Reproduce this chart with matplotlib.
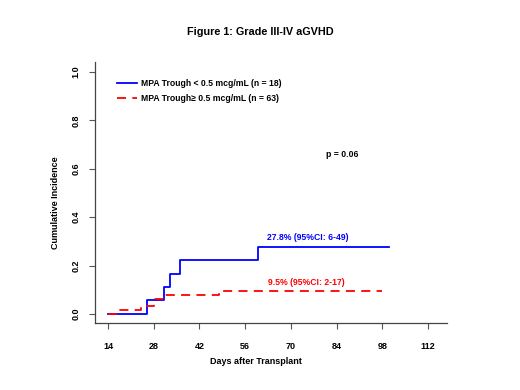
import matplotlib.pyplot as plt
from matplotlib.transforms import ScaledTranslation

plt.rcParams['font.family'] = ['Liberation Sans', 'DejaVu Sans']

# step curves (days, cumulative incidence)
low_days = [14, 26, 31, 33, 36, 60, 100]
low_inc = [0.0, 0.056, 0.111, 0.167, 0.222, 0.278, 0.278]
high_days = [14, 17, 24, 28, 31, 48, 98]
high_inc = [0.0, 0.016, 0.032, 0.063, 0.079, 0.095, 0.095]

xticks = [14, 28, 42, 56, 70, 84, 98, 112]
yticks = [0.0, 0.2, 0.4, 0.6, 0.8, 1.0]

fig = plt.figure(figsize=(5.2, 3.9), dpi=100)
ax = fig.add_axes([0.1827, 0.1718, 0.6769, 0.6692])

ax.plot(low_days, low_inc, drawstyle='steps-post', color='#0000ff', lw=1.3,
        label='MPA Trough < 0.5 mcg/mL (n = 18)')
ax.plot(high_days, high_inc, drawstyle='steps-post', color='#ff0000', lw=1.3,
        dashes=(5, 3.5), label='MPA Trough\u2265 0.5 mcg/mL (n = 63)')

ax.set_xlim(10, 117.8)
ax.set_ylim(-0.037, 1.041)
ax.set_xticks(xticks)
ax.set_yticks(yticks)
ax.set_xticklabels([str(t) for t in xticks], fontsize=6.5, fontweight='bold')
ax.set_yticklabels(['%.1f' % t for t in yticks], fontsize=6.5, fontweight='bold',
                   rotation=90, va='center')
# labels in the original sit a few pixels left of their ticks
shift = ScaledTranslation(-4 / 100, 0, fig.dpi_scale_trans)
for lab in ax.get_xticklabels():
    lab.set_transform(lab.get_transform() + shift)
ax.tick_params(length=4.5, width=0.8, color='#555555')
ax.tick_params(axis='x', pad=9)
ax.tick_params(axis='y', pad=6)
for s in ['top', 'right']:
    ax.spines[s].set_visible(False)
for s in ['left', 'bottom']:
    ax.spines[s].set_color('#444444')
    ax.spines[s].set_linewidth(0.9)

ax.set_xlabel('Days after Transplant', fontsize=6.5, fontweight='bold')
ax.xaxis.set_label_coords(0.457, -0.132)
ax.set_ylabel('Cumulative Incidence', fontsize=6.5, fontweight='bold')
ax.yaxis.set_label_coords(-0.1, 0.46)
fig.suptitle('Figure 1: Grade III-IV aGVHD', fontsize=7.8, fontweight='bold', y=0.93)

leg = ax.legend(loc='upper left', bbox_to_anchor=(0.04, 0.965), frameon=False,
                fontsize=6.2, handlelength=2.3, handletextpad=0.5, labelspacing=0.75)
for t in leg.get_texts():
    t.set_fontweight('bold')

ax.text(85.6, 0.657, 'p = 0.06', fontsize=6.3, fontweight='bold', ha='center', va='center')
ax.text(75.3, 0.315, '27.8% (95%CI: 6-49)', color='#0000ff', fontsize=6.2,
        fontweight='bold', ha='center', va='center')
ax.text(74.8, 0.13, '9.5% (95%CI: 2-17)', color='#ff0000', fontsize=6.2,
        fontweight='bold', ha='center', va='center')

fig.savefig('out.png', dpi=100)
